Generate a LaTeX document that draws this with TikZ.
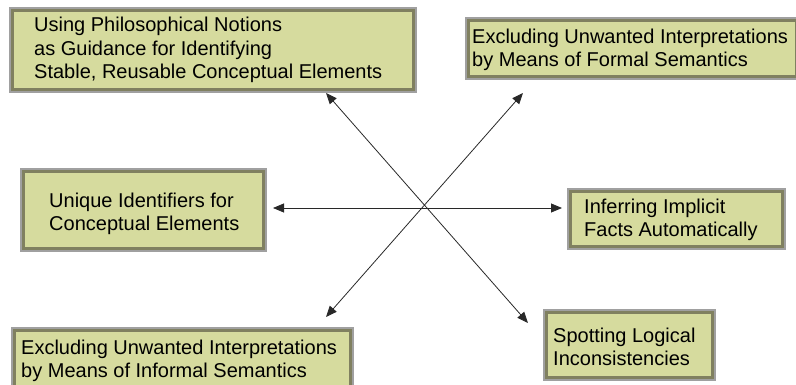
\documentclass[tikz,border=0pt]{standalone}
\usepackage{fontspec}
\setmainfont{Liberation Sans}
\usetikzlibrary{arrows.meta}
\definecolor{boxfill}{RGB}{214,219,158}
\definecolor{boxline}{RGB}{128,128,96}
\definecolor{boxouter}{RGB}{160,160,160}
\definecolor{arrowcol}{RGB}{40,40,40}
\tikzset{
  box/.style={rectangle, fill=boxfill, draw=boxline, line width=3pt, inner sep=0pt, outer sep=0pt,
    preaction={draw=boxouter, line width=7pt}},
  txt/.style={anchor=west, inner sep=0pt, align=left, font=\fontsize{20}{23.5}\selectfont, text=black},
  conn/.style={draw=arrowcol, line width=0.8pt, {Triangle[length=11pt,width=9pt]}-{Triangle[length=11pt,width=9pt]}}
}
\begin{document}
\begin{tikzpicture}[x=1pt,y=1pt]
\useasboundingbox (0,0) rectangle (796,-385);
% boxes
\node[box, minimum width=401pt, minimum height=79pt] (b1) at (213,-50) {};
\node[box, minimum width=328pt, minimum height=56pt] (b2) at (632.5,-48.5) {};
\node[box, minimum width=336pt, minimum height=58pt] (b3) at (182.5,-359.5) {};
\node[box, minimum width=240pt, minimum height=77pt] (b4) at (143.5,-210) {};
\node[box, minimum width=212pt, minimum height=55pt] (b5) at (676.5,-219) {};
\node[box, minimum width=166pt, minimum height=65pt] (b6) at (629.5,-345) {};
% texts
\node[txt] (t1) at (34,-50) {Using Philosophical Notions\\as Guidance for Identifying\\Stable, Reusable Conceptual Elements};
\node[txt] (t2) at (472,-50) {Excluding Unwanted Interpretations\\by Means of Formal Semantics};
\node[txt] (t3) at (21,-361) {Excluding Unwanted Interpretations\\by Means of Informal Semantics};
\node[txt] (t4) at (49,-214) {Unique Identifiers for\\Conceptual Elements};
\node[txt] (t5) at (584,-220) {Inferring Implicit\\Facts Automatically};
\node[txt] (t6) at (553,-347) {Spotting Logical\\Inconsistencies};
% arrow end points
\coordinate (hl) at (273,-208);
\coordinate (hr) at (562,-208);
\coordinate (d1a) at (326,-93);
\coordinate (d1b) at (528,-323);
\coordinate (d2a) at (523,-93);
\coordinate (d2b) at (326,-317);
\draw[conn] (hl) -- (hr);
\draw[conn] (d1a) -- (d1b);
\draw[conn] (d2a) -- (d2b);
\end{tikzpicture}
\end{document}
